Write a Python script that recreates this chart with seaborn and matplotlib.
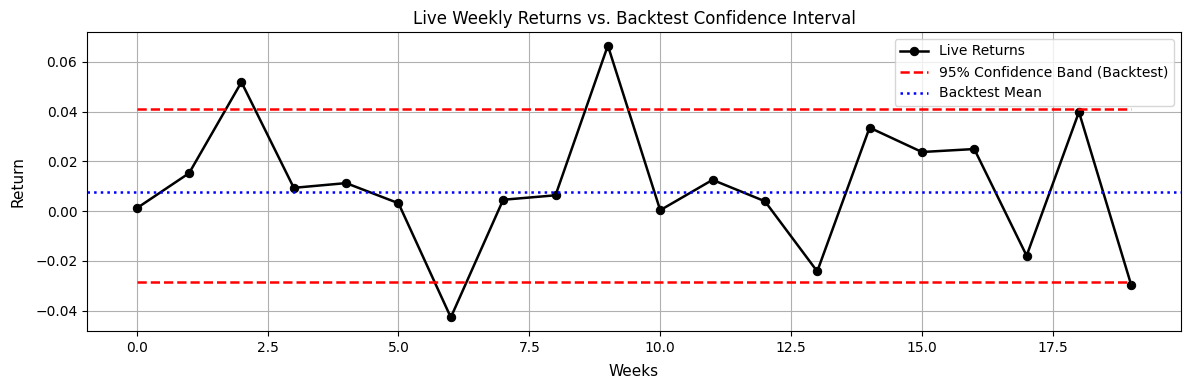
import numpy as np
import pandas as pd
import matplotlib
matplotlib.use('Agg')
import matplotlib.pyplot as plt
import seaborn as sns

# values
weeks = list(range(20))
live_returns = [0.0012, 0.0153, 0.0519, 0.0094, 0.0113, 0.0032, -0.0427, 0.0046, 0.0064, 0.0666,
                0.0004, 0.0126, 0.0040, -0.0242, 0.0336, 0.0238, 0.0250, -0.0179, 0.0399, -0.0298]
band_upper = 0.0412
band_lower = -0.0285
backtest_mean = 0.0078

df = pd.DataFrame({'week': weeks, 'ret': live_returns})

fig, ax = plt.subplots(figsize=(11.89, 3.9), dpi=100)

sns.lineplot(data=df, x='week', y='ret', ax=ax, color='black', marker='o',
             markersize=6, markeredgecolor='black', linewidth=1.8, label='Live Returns')
ax.hlines([band_upper, band_lower], xmin=weeks[0], xmax=weeks[-1], colors='red',
          linestyles='--', linewidth=1.8, label='95% Confidence Band (Backtest)')
ax.axhline(backtest_mean, color='blue', linestyle=':', linewidth=1.8, label='Backtest Mean')

ax.set_title('Live Weekly Returns vs. Backtest Confidence Interval', fontsize=12)
ax.set_xlabel('Weeks', fontsize=11, labelpad=7)
ax.set_ylabel('Return', fontsize=11, labelpad=7)
ax.grid(True)
ax.legend(loc='upper right')

# axes box placed to match the reference
plt.subplots_adjust(left=0.0732, right=0.9933, top=0.918, bottom=0.1513)
plt.savefig('out.png')
